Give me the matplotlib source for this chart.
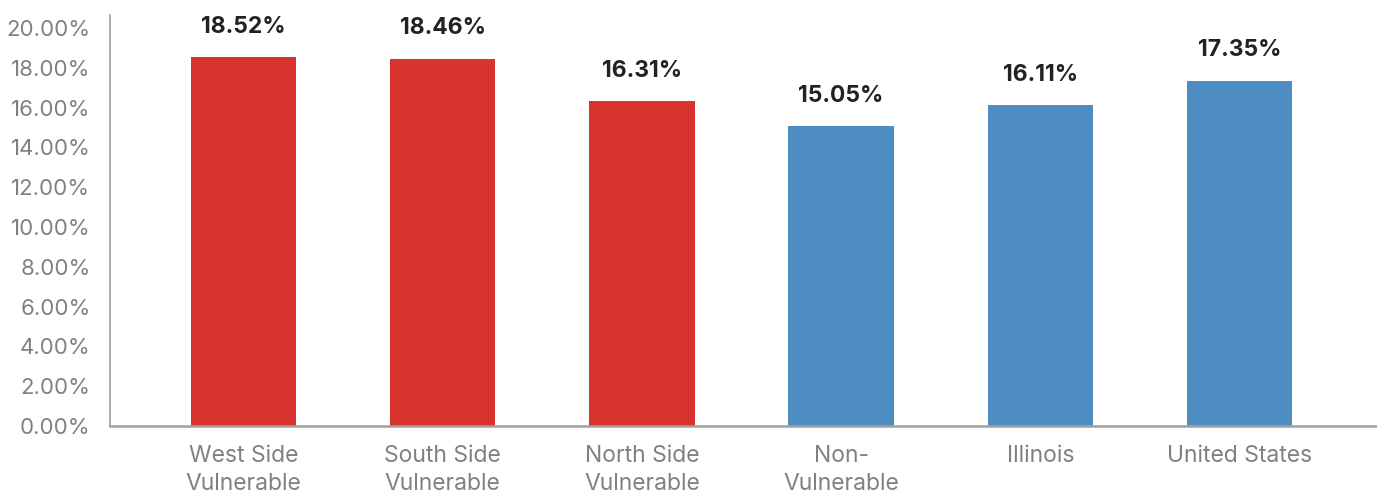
import matplotlib.pyplot as plt

categorias = ['West Side\nVulnerable', 'South Side\nVulnerable', 'North Side\nVulnerable',
              'Non-\nVulnerable', 'Illinois', 'United States']
valores = [18.52, 18.46, 16.31, 15.05, 16.11, 17.35]
cores = ['#D93330', '#D93330', '#D93330', '#4D8DC2', '#4D8DC2', '#4D8DC2']
ticks_y = [0, 2, 4, 6, 8, 10, 12, 14, 16, 18, 20]

plt.rcParams['font.family'] = ['Inter', 'DejaVu Sans']

fig = plt.figure(figsize=(13.77, 4.96), dpi=100)
ax = fig.add_axes([110 / 1377, 70 / 496, 1267 / 1377, 411 / 496])

x = list(range(len(categorias)))
barras = ax.bar(x, valores, width=0.53, color=cores)

for xi, v in zip(x, valores):
    ax.annotate(f'{v:.2f}%', (xi, v), xytext=(0, 22), textcoords='offset points',
                ha='center', va='center', fontsize=16.5, fontweight='bold', color='#222222')

ax.set_xlim(-0.67, 5.69)
ax.set_ylim(0, 20.65)
ax.set_yticks(ticks_y)
ax.set_yticklabels([f'{t:.2f}%' for t in ticks_y], fontsize=16)
ax.set_xticks(x)
ax.set_xticklabels(categorias, linespacing=1.3, fontsize=16.5)

ax.tick_params(axis='both', length=0, labelcolor='#808080')
ax.tick_params(axis='x', pad=14)
ax.tick_params(axis='y', pad=14)

for lado in ['top', 'right']:
    ax.spines[lado].set_visible(False)
ax.spines['left'].set_color('#a0a0a0')
ax.spines['bottom'].set_color('#a0a0a0')
ax.spines['left'].set_linewidth(1.2)
ax.spines['bottom'].set_linewidth(1.8)

fig.savefig('out.png', dpi=100)
